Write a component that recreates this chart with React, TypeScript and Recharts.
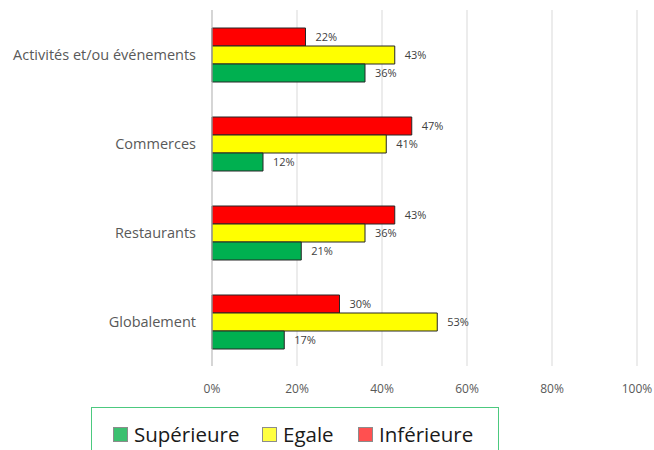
import { Bar, BarChart, CartesianGrid, LabelList, XAxis, YAxis } from "recharts";

const categories = ["Activités et/ou événements", "Commerces", "Restaurants", "Globalement"];
const superieure = [36, 12, 21, 17];
const egale = [43, 41, 36, 53];
const inferieure = [22, 47, 43, 30];
const xTicks = [0, 20, 40, 60, 80, 100];

const series = [
  { key: "inf", label: "Inférieure", color: "#FF0000", swatch: "#FF5050", legendX: 358 },
  { key: "ega", label: "Egale", color: "#FFFF00", swatch: "#FFFF40", legendX: 262 },
  { key: "sup", label: "Supérieure", color: "#00B050", swatch: "#3CC070", legendX: 113 },
];

const data = categories.map((name, i) => ({
  name,
  sup: superieure[i],
  ega: egale[i],
  inf: inferieure[i],
}));

const FONT = "'Open Sans', sans-serif";

export default function App() {
  return (
    <div style={{ position: "absolute", left: 0, top: 0, width: 654, height: 450, background: "#fff", overflow: "hidden", fontFamily: FONT }}>
      <BarChart
        width={654}
        height={450}
        data={data}
        layout="vertical"
        margin={{ top: 10, right: 17, bottom: 54, left: 0 }}
        barGap={0}
        barSize={18}
      >
        <CartesianGrid stroke="#d9d9d9" horizontal={false} />
        <XAxis
          type="number"
          domain={[0, 100]}
          ticks={xTicks}
          tickFormatter={(v) => `${v}%`}
          axisLine={false}
          tickLine={false}
          height={30}
          tick={{ fill: "#595959", fontSize: 12, fontFamily: FONT }}
          tickMargin={12}
        />
        <YAxis
          type="category"
          dataKey="name"
          width={212}
          axisLine={{ stroke: "#bfbfbf" }}
          tickLine={false}
          tickMargin={10}
          tick={{ fill: "#595959", fontSize: 14.5, fontFamily: FONT }}
        />
        {series.map((s) => (
          <Bar
            key={s.key}
            dataKey={s.key}
            name={s.label}
            fill={s.color}
            stroke="#262626"
            strokeWidth={1}
            isAnimationActive={false}
          >
            <LabelList
              dataKey={s.key}
              position="right"
              offset={10}
              formatter={(v: number) => `${v}%`}
              fill="#404040"
              fontSize={11}
              fontFamily={FONT}
            />
          </Bar>
        ))}
      </BarChart>
      <div
        style={{
          position: "absolute",
          left: 91,
          top: 407,
          width: 408,
          height: 60,
          border: "1px solid #4CC97F",
          boxSizing: "border-box",
        }}
      />
      {series.map((s) => (
        <div
          key={s.key}
          style={{
            position: "absolute",
            left: s.legendX,
            top: 421,
            display: "flex",
            alignItems: "center",
            fontSize: 20.5,
            lineHeight: "26px",
            color: "#1a1a1a",
            fontFamily: FONT,
            whiteSpace: "nowrap",
          }}
        >
          <span
            style={{
              display: "inline-block",
              width: 13,
              height: 13,
              background: s.swatch,
              border: "1px solid #8c8c8c",
              marginRight: 6,
            }}
          />
          {s.label}
        </div>
      ))}
    </div>
  );
}
